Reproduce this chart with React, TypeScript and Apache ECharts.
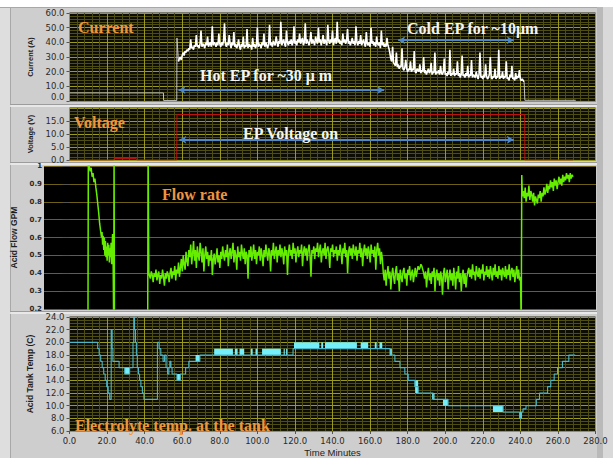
import React, { useEffect, useRef } from "react";
import * as echarts from "echarts";

// ---------- axis ranges ----------
const timeMin = 0;
const timeMax = 280;
const timeInterval = 20;
const currentRange = [0, 60, 10];
const voltageRange = [0, 20, 5];
const flowRange = [0.2, 1, 0.1];
const tempRange = [6, 24, 2];

// ---------- current (A), samples every 0.5 min ----------
const currentIdle = [
  [0, 5.5], [50.0, 5.5], [50.1, 0.4], [57.1, 0.4], [57.2, 43], [58, 27],
];
const currentHotStart = 58;
const currentHot = [
  27, 29, 30, 28, 31, 33, 31, 34, 33, 35,
  34, 36, 35, 42, 36, 37, 35, 38, 37, 45,
  37, 38, 36, 39, 48, 37, 39, 38, 36, 40,
  38, 44, 37, 39, 40, 37, 51, 38, 40, 39,
  37, 40, 38, 46, 39, 37, 40, 38, 41, 53,
  39, 37, 40, 38, 45, 39, 36, 40, 38, 47,
  37, 39, 36, 38, 42, 37, 35, 39, 37, 44,
  36, 38, 37, 49, 36, 39, 37, 38, 35, 43,
  37, 39, 36, 38, 50, 37, 39, 38, 36, 40,
  38, 46, 37, 40, 38, 36, 39, 52, 38, 40,
  37, 41, 39, 38, 44, 40, 37, 41, 39, 54,
  38, 40, 42, 39, 37, 48, 40, 38, 41, 39,
  42, 38, 40, 51, 39, 41, 38, 42, 40, 46,
  39, 41, 43, 38, 40, 53, 39, 42, 40, 38,
  41, 47, 39, 42, 40, 38, 44, 41, 39, 50,
  40, 42, 38, 41, 45, 39, 42, 40, 38, 52,
  41, 39, 42, 40, 48, 38, 41, 43, 39, 54,
  40, 42, 39, 41, 38, 46, 40, 42, 39, 41,
  49, 39, 41, 38, 40, 43, 39, 41, 38, 51,
  40, 38, 41, 39, 45, 38, 40, 42, 39, 37,
  47, 39, 38, 40, 37, 50, 39, 41, 38, 40,
  37, 44, 39, 38, 40, 36, 48, 38, 40, 37,
  39, 37, 43, 38, 36, 33,
];
const currentColdStart = 171;
const currentCold = [
  29, 27, 37, 26, 25, 24, 33, 23, 25, 22,
  24, 23, 36, 22, 21, 23, 28, 22, 20, 22,
  21, 27, 20, 22, 21, 34, 20, 19, 22, 21,
  20, 25, 19, 21, 20, 30, 19, 21, 18, 20,
  22, 19, 20, 26, 18, 20, 19, 33, 18, 20,
  19, 21, 18, 24, 19, 18, 20, 29, 18, 19,
  17, 20, 18, 35, 17, 19, 18, 22, 17, 19,
  18, 27, 17, 19, 16, 18, 31, 17, 18, 16,
  19, 17, 24, 16, 18, 17, 28, 16, 18, 17,
  16, 20, 17, 15, 18, 33, 16, 17, 15, 18,
  16, 25, 17, 15, 16, 18, 30, 16, 15, 17,
  16, 22, 15, 17, 16, 35, 15, 17, 16, 20,
  15, 17, 16, 27, 15, 16, 14, 18, 16, 24,
  15, 16, 14, 19, 15, 17, 16, 21, 15, 14,
  15, 14, 13,
];
const currentPost = [[242, 13], [242.4, 0.5], [269.5, 0.5]];
// arrows: [from, to, level]
const currentArrows = [
  [58, 167.5, 7.5],
  [175, 236.5, 41.5],
];

// ---------- voltage (V) ----------
const voltage = [
  [0, 0], [23.5, 0], [23.8, 0.6], [35.5, 0.6], [35.8, 0], [57.1, 0],
  [57.2, 17.5], [242.3, 17.5], [242.4, 0], [268, 0],
];
const voltageArrows = [[58.5, 236.5, 7.8]];

// ---------- flow (GPM) ----------
const flowStart = [
  [9.8, 0.1], [10.0, 1.1], [10.4, 1.0], [11.0, 0.97], [11.5, 0.99], [12.0, 0.94],
  [12.5, 0.96], [13.0, 0.91], [13.5, 0.93], [14.0, 0.88], [14.5, 0.84], [15.0, 0.79],
  [15.5, 0.74], [16.0, 0.68], [16.5, 0.64], [17.0, 0.6], [17.3, 0.63], [17.6, 0.56],
  [17.9, 0.61], [18.2, 0.53], [18.5, 0.6], [18.8, 0.5], [19.1, 0.58], [19.4, 0.49],
  [19.7, 0.55], [20.0, 0.47], [20.3, 0.57], [20.6, 0.5], [20.9, 0.56], [21.2, 0.46],
  [21.5, 0.54], [21.8, 0.49], [22.1, 0.57], [22.4, 0.45], [22.7, 0.55], [22.9, 0.62],
  [23.2, 0.45], [23.5, 0.1], [23.7, 1.1], [23.9, 0.1], [41.6, 0.1], [41.8, 1.1], [42.2, 0.4],
];
const flowMidStart = 42.5;
const flowMid = [
  0.40, 0.37, 0.41, 0.39, 0.35, 0.40, 0.38, 0.42, 0.36, 0.39,
  0.41, 0.34, 0.39, 0.37, 0.42, 0.38, 0.33, 0.40, 0.37, 0.41,
  0.39, 0.35, 0.40, 0.43, 0.37, 0.41, 0.39, 0.44, 0.36, 0.42,
  0.40, 0.46, 0.38, 0.43, 0.48, 0.41, 0.50, 0.45, 0.42, 0.52,
  0.47, 0.44, 0.53, 0.49, 0.56, 0.45, 0.51, 0.58, 0.47, 0.53,
  0.43, 0.55, 0.50, 0.47, 0.57, 0.52, 0.46, 0.54, 0.41, 0.50,
  0.55, 0.48, 0.52, 0.44, 0.50, 0.47, 0.53, 0.39, 0.48, 0.51,
  0.45, 0.49, 0.54, 0.46, 0.50, 0.43, 0.52, 0.48, 0.55, 0.50,
  0.47, 0.53, 0.49, 0.56, 0.44, 0.51, 0.54, 0.48, 0.52, 0.57,
  0.46, 0.53, 0.50, 0.42, 0.55, 0.49, 0.52, 0.47, 0.56, 0.51,
  0.48, 0.54, 0.45, 0.52, 0.50, 0.37, 0.53, 0.49, 0.55, 0.47,
  0.51, 0.56, 0.48, 0.53, 0.45, 0.52, 0.50, 0.55, 0.47, 0.54,
  0.50, 0.44, 0.53, 0.49, 0.56, 0.51, 0.47, 0.54, 0.52, 0.41,
  0.53, 0.50, 0.57, 0.48, 0.52, 0.55, 0.46, 0.53, 0.50, 0.56,
  0.49, 0.54, 0.51, 0.45, 0.55, 0.50, 0.53, 0.39, 0.52, 0.56,
  0.50, 0.53, 0.48, 0.57, 0.51, 0.54, 0.46, 0.52, 0.55, 0.49,
  0.53, 0.51, 0.56, 0.44, 0.52, 0.55, 0.50, 0.54, 0.47, 0.53,
  0.56, 0.50, 0.38, 0.53, 0.51, 0.55, 0.48, 0.54, 0.52, 0.57,
  0.49, 0.53, 0.56, 0.46, 0.52, 0.54, 0.50, 0.57, 0.48, 0.53,
  0.55, 0.51, 0.43, 0.54, 0.52, 0.56, 0.49, 0.53, 0.51, 0.55,
  0.47, 0.53, 0.50, 0.56, 0.52, 0.45, 0.54, 0.51, 0.57, 0.49,
  0.53, 0.40, 0.52, 0.55, 0.50, 0.54, 0.48, 0.56, 0.52, 0.50,
  0.55, 0.47, 0.53, 0.51, 0.57, 0.49, 0.54, 0.44, 0.52, 0.56,
  0.50, 0.54, 0.48, 0.55, 0.52, 0.46, 0.56, 0.51, 0.53, 0.49,
  0.55, 0.42, 0.53, 0.57, 0.50, 0.54, 0.45, 0.52, 0.48, 0.40,
  0.36, 0.42, 0.33, 0.40, 0.44, 0.37, 0.41, 0.31, 0.39, 0.43,
  0.38, 0.34, 0.41, 0.44, 0.36, 0.40, 0.30, 0.42, 0.38, 0.35,
  0.41, 0.43, 0.37, 0.40, 0.33, 0.42, 0.39, 0.44, 0.36, 0.40,
  0.42, 0.35, 0.39, 0.43, 0.38, 0.41, 0.44, 0.42, 0.43, 0.45,
  0.44, 0.42, 0.40, 0.37, 0.41, 0.32, 0.39, 0.43, 0.36, 0.40,
  0.34, 0.41, 0.38, 0.43, 0.30, 0.39, 0.42, 0.36, 0.40, 0.33,
  0.41, 0.38, 0.28, 0.40, 0.43, 0.35, 0.39, 0.42, 0.31, 0.38,
  0.42, 0.36, 0.40, 0.33, 0.43, 0.38, 0.31, 0.41, 0.37, 0.44,
  0.35, 0.40, 0.30, 0.39, 0.42, 0.34, 0.40, 0.32, 0.38, 0.41,
  0.43, 0.38, 0.42, 0.37, 0.45, 0.39, 0.41, 0.36, 0.44, 0.40,
  0.38, 0.43, 0.37, 0.42, 0.40, 0.45, 0.36, 0.41, 0.39, 0.44,
  0.38, 0.42, 0.37, 0.44, 0.40, 0.36, 0.43, 0.39, 0.45, 0.38,
  0.41, 0.37, 0.44, 0.39, 0.42, 0.36, 0.43, 0.40, 0.38, 0.44,
  0.37, 0.42, 0.39, 0.45, 0.36, 0.41, 0.43, 0.38, 0.42, 0.35,
  0.40, 0.44, 0.37, 0.42, 0.36, 0.38,
];
const flowJump = [[240.4, 0.1], [240.7, 0.95], [241.0, 0.83]];
const flowEndStart = 241.5;
const flowEnd = [
  0.86, 0.82, 0.88, 0.80, 0.85, 0.83, 0.89, 0.81, 0.86, 0.84,
  0.80, 0.85, 0.78, 0.83, 0.81, 0.79, 0.84, 0.82, 0.86, 0.80,
  0.85, 0.83, 0.88, 0.84, 0.86, 0.90, 0.85, 0.89, 0.87, 0.92,
  0.88, 0.91, 0.86, 0.93, 0.89, 0.92, 0.87, 0.91, 0.94, 0.90,
  0.93, 0.89, 0.95, 0.91, 0.94, 0.92, 0.96, 0.93, 0.95, 0.91,
  0.96, 0.93, 0.95, 0.94,
];

// ---------- tank temperature (C): value holds from t ----------
const temperature = [
  [0, 20], [15.0, 19], [15.8, 18], [16.6, 17], [17.4, 16], [18.2, 15], [19.0, 14],
  [19.8, 13], [20.6, 12], [21.4, 11], [22.2, 22], [22.7, 19], [23.1, 17], [26.4, 16],
  [29.4, 15], [32.0, 16], [33.8, 20], [34.2, 24], [34.6, 22], [35.1, 20], [35.6, 18],
  [36.1, 16], [36.7, 15], [37.3, 14], [38.0, 13], [38.8, 12], [39.6, 11], [46.8, 20],
  [47.7, 19], [48.6, 18], [49.8, 17], [50.6, 18], [51.4, 16], [52.2, 15], [52.9, 16],
  [53.4, 17], [54.0, 16], [54.6, 15], [57.2, 14], [59.0, 15], [61.8, 16], [63.5, 17],
  [69.4, 18], [119.0, 19], [170.6, 18], [173.2, 17], [175.9, 16], [178.5, 15],
  [180.3, 14], [183.8, 13], [185.6, 12], [193.6, 11], [201.5, 10], [230.8, 9],
  [239.6, 8], [240.4, 9], [241.4, 9.5], [243.0, 10], [248.5, 11], [250.2, 12],
  [254.5, 13], [256.2, 14], [258.0, 15], [259.8, 16], [262.4, 17], [265.8, 18],
  [269.2, 18],
];
// blocks of rapid toggling: [from, to, low, high]
const temperatureBlocks = [
  [29.4, 32.0, 15, 16], [57.2, 59.0, 14, 15], [67.1, 69.4, 17, 18],
  [77, 87, 18, 19], [88, 89.5, 18, 19], [90.5, 93, 18, 19], [96.5, 97.5, 18, 19],
  [99, 100, 18, 19], [102.5, 112.5, 18, 19], [114, 114.6, 18, 19], [115.3, 116, 18, 19],
  [119.5, 133, 19, 20], [134, 135, 19, 20], [136, 153, 19, 20], [155, 159, 19, 20],
  [162.5, 163.5, 19, 20], [165, 166.5, 19, 20], [170.6, 171.6, 18, 19],
  [184.0, 185.6, 12, 14], [193.0, 194.3, 11, 12], [198.8, 201.5, 10, 11],
  [225.4, 230.8, 9, 10], [239.4, 240.9, 8, 9],
];

const seq = (start: number, step: number, values: number[]) => values.map((v, i) => [start + i * step, v]);

const MAJOR = "#9a9a22";
const MINOR = "#4e4e14";
const PLOT_BG = "#0d0d04";
const ORANGE = "#f0953f";
const LABEL_FONT = "DejaVu Sans, sans-serif";
const NAME_FONT = "Liberation Sans Narrow, Liberation Sans, sans-serif";
const SERIF = '"Liberation Serif", "Times New Roman", serif';

function darkYAxis(gridIndex: number, r: number[], name: string, nameGap: number, nameSize: number, minor: number, extra: any = {}) {
  return {
    type: "value", gridIndex, min: r[0], max: r[1], interval: r[2],
    name, nameLocation: "middle", nameGap, nameRotate: 90,
    nameTextStyle: { fontFamily: NAME_FONT, fontWeight: "bold", fontSize: nameSize, color: "#1e1e1e" },
    axisLine: { show: false },
    axisTick: { show: true, length: 3, lineStyle: { color: "#555" } },
    axisLabel: { fontFamily: LABEL_FONT, fontSize: 8.5, color: "#2a2a2a", margin: 5, formatter: (v: number) => v.toFixed(1), ...extra },
    splitLine: { show: true, lineStyle: { color: MAJOR, width: 1 } },
    minorTick: { show: false, splitNumber: minor },
    minorSplitLine: { show: true, lineStyle: { color: MINOR, width: 1 } },
  };
}

function timeAxis(gridIndex: number, showLabels: boolean) {
  return {
    type: "value", gridIndex, min: timeMin, max: timeMax, interval: timeInterval,
    axisLine: { show: false },
    axisTick: { show: showLabels, length: 3, lineStyle: { color: "#555" } },
    axisLabel: { show: showLabels, fontFamily: LABEL_FONT, fontSize: 8.5, color: "#2a2a2a", margin: 5, formatter: (v: number) => v.toFixed(1) },
    splitLine: { show: true, lineStyle: { color: MAJOR, width: 1 } },
    minorTick: { show: false, splitNumber: 5 },
    minorSplitLine: { show: true, lineStyle: { color: MINOR, width: 1 } },
    name: showLabels ? "Time Minutes" : "",
    nameLocation: "middle", nameGap: 16,
    nameTextStyle: { fontFamily: "Liberation Sans, sans-serif", fontSize: 9.5, color: "#1e1e1e", verticalAlign: "top" },
  };
}

const arrowLine = (arrs: number[][]) => ({
  silent: true,
  symbol: ["arrow", "arrow"],
  symbolSize: [6, 7],
  label: { show: false },
  emphasis: { disabled: true },
  lineStyle: { color: "#4f88c8", width: 2, type: "solid", opacity: 1 },
  data: arrs.map((a) => [{ coord: [a[0], a[2]] }, { coord: [a[1], a[2]] }]),
});

function textEl(text: string, x: number, y: number, fill: string) {
  return {
    type: "text", x, y, z: 100, silent: true,
    style: { text, fill, font: `bold 16px ${SERIF}`, align: "left", verticalAlign: "middle" },
  };
}

export default function App() {
  const ref = useRef<HTMLDivElement>(null);
  useEffect(() => {
    document.body.style.margin = "0";
    const chart = echarts.init(ref.current!, undefined, { renderer: "svg" });
    const flowData = [
      ...flowStart,
      ...seq(flowMidStart, 0.5, flowMid),
      ...flowJump,
      ...seq(flowEndStart, 0.5, flowEnd),
    ];
    const currentActive = [...seq(currentHotStart, 0.5, currentHot), ...seq(currentColdStart, 0.5, currentCold)];
    const line = { type: "line", symbol: "none", silent: true, animation: false, clip: true };
    chart.setOption({
      animation: false,
      backgroundColor: "#cecece",
      grid: [
        { left: 69.5, top: 13, width: 526, height: 88, show: true, backgroundColor: PLOT_BG, borderColor: "#2a2a14", borderWidth: 1 },
        { left: 69.5, top: 108, width: 526, height: 52, show: true, backgroundColor: PLOT_BG, borderColor: "#2a2a14", borderWidth: 1 },
        { left: 44, top: 166, width: 552, height: 143, show: true, backgroundColor: "#000000", borderWidth: 0 },
        { left: 69.5, top: 317, width: 526, height: 120, show: true, backgroundColor: PLOT_BG, borderColor: "#2a2a14", borderWidth: 1 },
      ],
      xAxis: [
        timeAxis(0, false),
        timeAxis(1, false),
        { type: "value", gridIndex: 2, min: -13.6, max: 280.2, show: false, splitLine: { show: false } },
        timeAxis(3, true),
      ],
      yAxis: [
        darkYAxis(0, currentRange, "Current (A)", 26, 7.5, 5, { verticalAlignMinLabel: "bottom" }),
        darkYAxis(1, voltageRange, "Voltage (V)", 26, 7.5, 4, { verticalAlignMaxLabel: "top" }),
        {
          type: "value", gridIndex: 2, min: flowRange[0], max: flowRange[1], interval: flowRange[2],
          name: "Acid Flow GPM", nameLocation: "middle", nameGap: 22, nameRotate: 90,
          nameTextStyle: { fontFamily: NAME_FONT, fontWeight: "bold", fontSize: 8.5, color: "#1e1e1e" },
          axisLine: { show: false },
          axisTick: { show: true, length: 7, lineStyle: { color: "#555" } },
          axisLabel: {
            fontFamily: LABEL_FONT, fontSize: 7, fontWeight: "bold", color: "#2a2a2a", margin: 2,
            formatter: (v: number) => (Math.abs(v - 1) < 1e-6 ? "1" : v.toFixed(1)),
          },
          splitLine: { show: true, lineStyle: { color: "#6e6014", width: 1 } },
        },
        darkYAxis(3, tempRange, "Acid Tank Temp (C)", 33, 8.5, 4),
      ],
      graphic: [
        { type: "rect", shape: { x: 0, y: 0, width: 613, height: 7 }, style: { fill: "#ffffff" }, silent: true },
        { type: "rect", shape: { x: 0, y: 7, width: 10, height: 451 }, style: { fill: "#dedede" }, silent: true },
        { type: "line", shape: { x1: 10.5, y1: 7, x2: 10.5, y2: 458 }, style: { stroke: "#a8a8a8", lineWidth: 1 }, silent: true },
        { type: "line", shape: { x1: 0, y1: 7.5, x2: 613, y2: 7.5 }, style: { stroke: "#a8a8a8", lineWidth: 1 }, silent: true },
        { type: "rect", shape: { x: 597, y: 7, width: 6, height: 451 }, style: { fill: "#b9b9b9" }, silent: true },
        { type: "rect", shape: { x: 603, y: 7, width: 10, height: 451 }, style: { fill: "#d9d9d9" }, silent: true },
        { type: "line", shape: { x1: 10, y1: 104.5, x2: 597, y2: 104.5 }, style: { stroke: "#9c9c9c", lineWidth: 1 }, silent: true },
        { type: "line", shape: { x1: 10, y1: 106, x2: 597, y2: 106 }, style: { stroke: "#f0f0f0", lineWidth: 1.5 }, silent: true },
        { type: "line", shape: { x1: 10, y1: 162.5, x2: 597, y2: 162.5 }, style: { stroke: "#9c9c9c", lineWidth: 1 }, silent: true },
        { type: "line", shape: { x1: 10, y1: 164, x2: 597, y2: 164 }, style: { stroke: "#f0f0f0", lineWidth: 1.5 }, silent: true },
        { type: "line", shape: { x1: 10, y1: 311.5, x2: 597, y2: 311.5 }, style: { stroke: "#9c9c9c", lineWidth: 1 }, silent: true },
        { type: "line", shape: { x1: 10, y1: 313, x2: 597, y2: 313 }, style: { stroke: "#f0f0f0", lineWidth: 1.5 }, silent: true },
        textEl("Current", 78, 27, ORANGE),
        textEl("Hot EP for ~30 \u03bc m", 200, 75, "#f4f4f4"),
        textEl("Cold EP for ~10\u03bcm", 407, 28, "#f4f4f4"),
        textEl("Voltage", 74, 122, ORANGE),
        textEl("EP Voltage on", 243, 133, "#f4f4f4"),
        textEl("Flow rate", 162, 194, ORANGE),
        textEl("Electrolyte temp. at the tank", 75, 425, ORANGE),
      ],
      series: [
        { ...line, name: "Current idle", xAxisIndex: 0, yAxisIndex: 0, data: currentIdle, lineStyle: { color: "#c4c4c4", width: 1 } },
        {
          ...line, name: "Current", xAxisIndex: 0, yAxisIndex: 0, data: currentActive,
          lineStyle: { color: "#ffffff", width: 1.6 },
          markLine: arrowLine(currentArrows),
        },
        { ...line, name: "Current off", xAxisIndex: 0, yAxisIndex: 0, data: currentPost, lineStyle: { color: "#c4c4c4", width: 1 } },
        {
          ...line, name: "Voltage", xAxisIndex: 1, yAxisIndex: 1, data: voltage,
          lineStyle: { color: "#c01010", width: 1 },
          markLine: arrowLine(voltageArrows),
        },
        { ...line, name: "Flow", xAxisIndex: 2, yAxisIndex: 2, data: flowData, lineStyle: { color: "#66ee00", width: 1.5 } },
        {
          ...line, name: "Temperature", xAxisIndex: 3, yAxisIndex: 3, data: temperature, step: "end",
          lineStyle: { color: "#4cb6c8", width: 1.1 },
          markArea: {
            silent: true,
            itemStyle: { color: "#74eef8", opacity: 1 },
            emphasis: { disabled: true },
            data: temperatureBlocks.map((b) => [{ coord: [b[0], b[2]] }, { coord: [b[1], b[3]] }]),
          },
        },
      ],
    });
    return () => chart.dispose();
  }, []);
  return <div ref={ref} style={{ position: "absolute", left: 0, top: 0, width: 613, height: 458 }} />;
}
